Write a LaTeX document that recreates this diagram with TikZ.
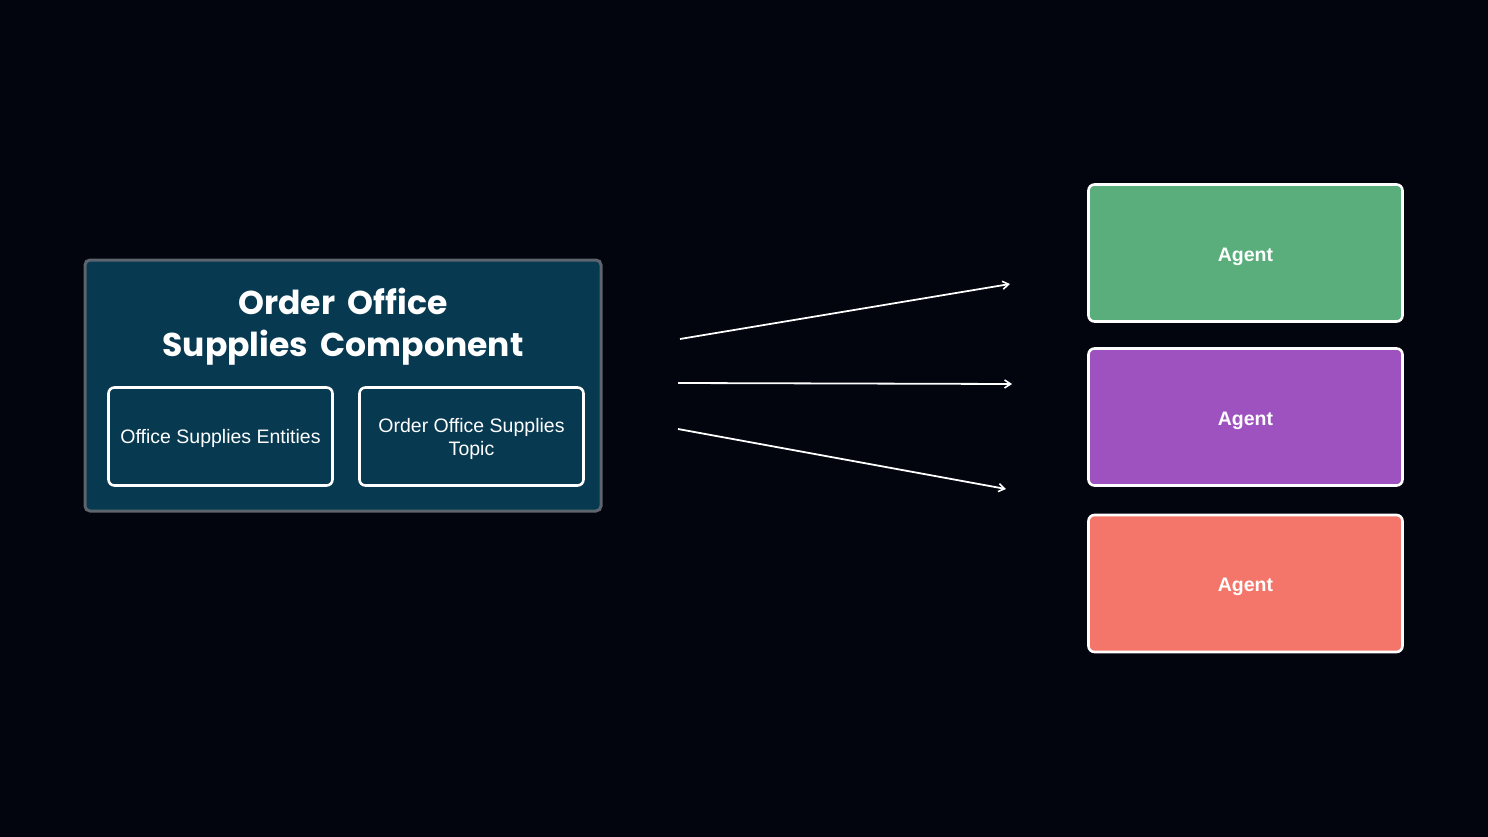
\documentclass[tikz,border=0pt]{standalone}
\usepackage{fontspec}
\setmainfont{Liberation Sans}
\newfontfamily\titlefont[WordSpace=1.8]{Poppins}
\usetikzlibrary{arrows.meta}
\definecolor{bgc}{RGB}{2,4,14}
\definecolor{compfill}{RGB}{7,57,81}
\definecolor{compline}{RGB}{92,100,110}
\definecolor{agreen}{RGB}{89,174,124}
\definecolor{apurple}{RGB}{157,82,192}
\definecolor{asalmon}{RGB}{244,118,106}
\tikzset{
  compbox/.style={draw=compline, line width=3pt, fill=compfill, rounded corners=5pt},
  innerbox/.style={draw=white, line width=2.6pt, rounded corners=6pt, minimum width=224pt, minimum height=98pt, inner sep=0pt},
  innertext/.style={align=center, text=white, font=\fontsize{19.5}{23}\selectfont},
  agentbox/.style={draw=white, line width=2.6pt, rounded corners=6pt, minimum width=314pt, minimum height=137pt, inner sep=0pt},
  agenttext/.style={text=white, font=\fontsize{19.5}{23}\selectfont\bfseries},
  flow/.style={draw=white, line width=1.8pt, -{Straight Barb[length=6pt,width=8pt,line width=1.6pt]}}
}
\begin{document}
\begin{tikzpicture}[x=1pt,y=-1pt]
\fill[bgc] (0,0) rectangle (1488,837);
\useasboundingbox (0,0) rectangle (1488,837);
\node[compbox, minimum width=516pt, minimum height=251pt, inner sep=0pt] (comp) at (343,385.5) {};
\node[text=white, align=center, font=\titlefont\bfseries\fontsize{33}{42}\selectfont] (title) at (343,327) {Order Office\\Supplies Component};
\node[innerbox] (ent) at (220.5,436.5) {};
\node[innertext] (entt) at ([yshift=-2pt]ent.center) {Office Supplies Entities};
\node[innerbox] (topic) at (471.5,436.5) {};
\node[innertext] (topict) at ([yshift=-2pt]topic.center) {Order Office Supplies\\Topic};
\node[agentbox, fill=agreen] (a1) at (1245.5,253) {};
\node[agenttext] (a1t) at ([yshift=-3.5pt]a1.center) {Agent};
\node[agentbox, fill=apurple] (a2) at (1245.5,417) {};
\node[agenttext] (a2t) at ([yshift=-3.5pt]a2.center) {Agent};
\node[agentbox, fill=asalmon] (a3) at (1245.5,583.5) {};
\node[agenttext] (a3t) at ([yshift=-3.5pt]a3.center) {Agent};
\coordinate (s1) at (680,339);
\coordinate (e1) at (1010,284);
\coordinate (s2) at (678,383);
\coordinate (e2) at (1012,384);
\coordinate (s3) at (678,429);
\coordinate (e3) at (1006,489);
\draw[flow] (s1) -- (e1);
\draw[flow] (s2) -- (e2);
\draw[flow] (s3) -- (e3);
\end{tikzpicture}
\end{document}
